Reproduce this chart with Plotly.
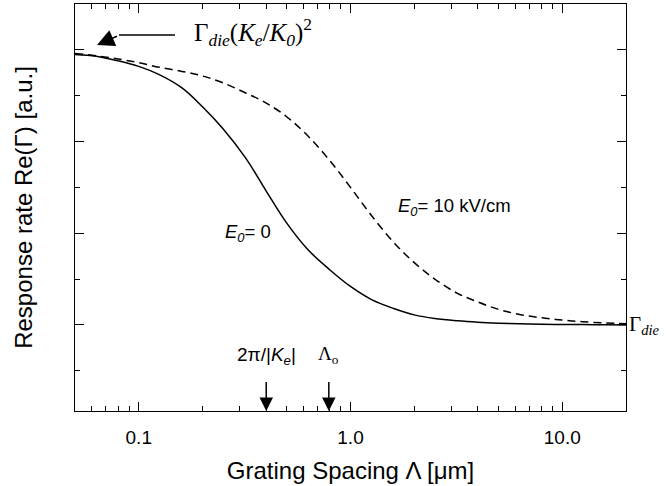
import plotly.graph_objects as go
import math

# Data
lam_e0 = [0.05, 0.063, 0.08, 0.1, 0.125, 0.16, 0.2, 0.25, 0.32, 0.4, 0.5, 0.63, 0.8, 1.0,
          1.25, 1.6, 2.0, 2.5, 3.2, 4.0, 5.0, 6.3, 8.0, 10.0, 12.5, 16.0, 20.0]
rate_e0 = [3.95, 3.93, 3.88, 3.82, 3.73, 3.585, 3.38, 3.14, 2.82, 2.46, 2.11, 1.82, 1.60, 1.42,
           1.28, 1.18, 1.11, 1.07, 1.045, 1.03, 1.02, 1.013, 1.008, 1.006, 1.004, 1.002, 1.001]

lam_e10 = [0.05, 0.063, 0.08, 0.1, 0.125, 0.16, 0.2, 0.25, 0.32, 0.4, 0.5, 0.63, 0.8, 1.0,
           1.25, 1.6, 2.0, 2.5, 3.2, 4.0, 5.0, 6.3, 8.0, 10.0, 12.5, 16.0, 20.0]
rate_e10 = [3.96, 3.935, 3.90, 3.86, 3.81, 3.765, 3.715, 3.64, 3.53, 3.42, 3.27, 3.06, 2.79, 2.50,
            2.20, 1.90, 1.68, 1.50, 1.345, 1.25, 1.17, 1.115, 1.078, 1.053, 1.035, 1.022, 1.013]

x_major = [0.1, 1.0, 10.0]
x_major_text = ["0.1", "1.0", "10.0"]
x_minor = [0.06, 0.07, 0.08, 0.09, 0.2, 0.3, 0.4, 0.5, 0.6, 0.7, 0.8, 0.9,
           2, 3, 4, 5, 6, 7, 8, 9]
y_major = [1, 2, 3, 4]
y_minor = [0.5, 1.5, 2.5, 3.5]

lam_ke = 0.4     # 2π/|Ke|
lam_o = 0.79     # Λo

X_RANGE = [math.log10(0.05), math.log10(20)]
Y_RANGE = [0.062, 4.50]

SANS = "Liberation Sans, Arial, sans-serif"
SERIF = "Liberation Serif, Times New Roman, serif"

fig = go.Figure()
fig.add_trace(go.Scatter(x=lam_e0, y=rate_e0, mode="lines",
                         line=dict(color="black", width=1.5, shape="spline", smoothing=1.0),
                         hoverinfo="skip"))
fig.add_trace(go.Scatter(x=lam_e10, y=rate_e10, mode="lines",
                         line=dict(color="black", width=1.5, dash="8px,5px", shape="spline", smoothing=1.0),
                         hoverinfo="skip"))

axis_common = dict(showgrid=False, zeroline=False, showline=True, linecolor="black",
                   linewidth=1, mirror="allticks", ticks="inside", tickcolor="black",
                   automargin=False)

fig.update_xaxes(type="log", range=X_RANGE, tickmode="array", tickvals=x_major,
                 ticktext=x_major_text, ticklen=9, tickwidth=1, ticklabelstandoff=9,
                 minor=dict(tickmode="array", tickvals=x_minor, ticks="inside", ticklen=5,
                            tickcolor="black", tickwidth=1),
                 tickfont=dict(family=SANS, size=19, color="black"),
                 title=dict(text="Grating Spacing Λ [μm]", font=dict(family=SANS, size=24, color="black"),
                            standoff=15),
                 **axis_common)
fig.update_yaxes(range=Y_RANGE, tickmode="array", tickvals=y_major,
                 ticklen=9, tickwidth=1, showticklabels=False,
                 minor=dict(tickmode="array", tickvals=y_minor, ticks="inside", ticklen=5,
                            tickcolor="black", tickwidth=1),
                 title=dict(text="Response rate Re(Γ) [a.u.]", font=dict(family=SANS, size=24, color="black"),
                            standoff=34),
                 **axis_common)

ann = []
# top-left label and bent arrow
ann.append(dict(xref="paper", yref="paper", x=(192 - 75) / 551, y=(411 - 32) / 407,
                xanchor="left", yanchor="middle", showarrow=False,
                text="Γ<sub><i>die</i></sub>(<i>K<sub>e</sub></i>/<i>K<sub>0</sub></i>)<sup>2</sup>",
                font=dict(family=SERIF, size=25, color="black")))
ann.append(dict(x=X_RANGE[0] + 44 / 211.76, y=1 + 290 / 91.7, xref="x", yref="y",
                ax=59, ay=0, showarrow=True, arrowhead=0, arrowwidth=1.5, arrowcolor="black", text=" "))
ann.append(dict(x=X_RANGE[0] + 22 / 211.76, y=1 + 280 / 91.7, xref="x", yref="y",
                ax=23, ay=-10, showarrow=True, arrowhead=2, arrowsize=2.3, arrowwidth=1.5,
                arrowcolor="black", text=" "))
# Gamma_die at right
ann.append(dict(xref="paper", yref="y", x=1, y=1, xanchor="left", yanchor="middle", xshift=1,
                showarrow=False, text="Γ<sub><i>die</i></sub>",
                font=dict(family=SERIF, size=21, color="black")))
# curve labels
ann.append(dict(xref="paper", yref="paper", x=(248 - 75) / 551, y=(411 - 233) / 407,
                xanchor="center", yanchor="middle", showarrow=False,
                text="<i>E<sub>0</sub></i>= 0", font=dict(family=SANS, size=18.5, color="black")))
ann.append(dict(xref="paper", yref="paper", x=(396 - 75) / 551, y=(411 - 207) / 407,
                xanchor="left", yanchor="middle", showarrow=False,
                text="<i>E<sub>0</sub></i>= 10 kV/cm", font=dict(family=SANS, size=18.5, color="black")))
# bottom arrows
for lam in (lam_ke, lam_o):
    ann.append(dict(x=math.log10(lam), y=Y_RANGE[0], xref="x", yref="y", ax=0, ay=-39,
                    showarrow=True, arrowhead=2, arrowsize=1.8, arrowwidth=1.5,
                    arrowcolor="black", text=" "))
ann.append(dict(x=math.log10(lam_ke), y=1 - (356 - 325) / 91.7, xref="x", yref="y",
                xanchor="center", yanchor="middle", showarrow=False,
                text="2π/|<i>K<sub>e</sub></i>|", font=dict(family=SANS, size=19, color="black")))
ann.append(dict(x=math.log10(lam_o), y=1 - (355 - 325) / 91.7, xref="x", yref="y",
                xanchor="center", yanchor="middle", showarrow=False,
                text="Λ<sub>o</sub>", font=dict(family=SERIF, size=19, color="black")))

fig.update_layout(width=667, height=486, margin=dict(l=75, r=41, t=4, b=75),
                  plot_bgcolor="white", paper_bgcolor="white", showlegend=False,
                  annotations=ann)

fig.write_html("out.html", config={"displayModeBar": False},
               post_script="document.body.style.margin='0';")
